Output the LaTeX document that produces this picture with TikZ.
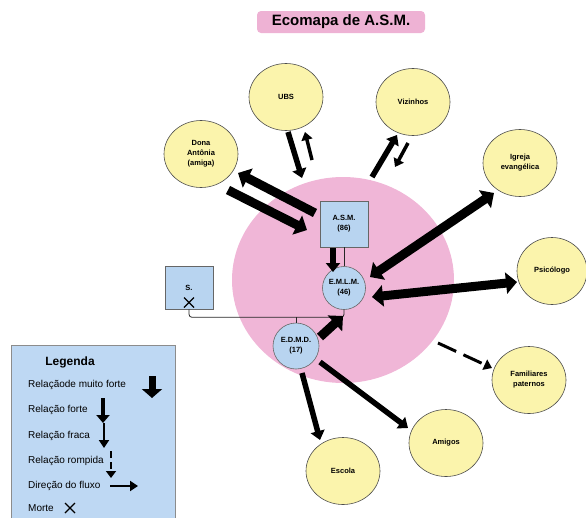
\documentclass[tikz,border=0pt]{standalone}
\usepackage{fontspec}
\setmainfont{Liberation Sans}
\usetikzlibrary{arrows.meta,calc,shapes.geometric}
\definecolor{pinkbg}{RGB}{240,182,215}
\definecolor{titlepink}{RGB}{238,178,212}
\definecolor{yel}{RGB}{251,244,172}
\definecolor{lblue}{RGB}{184,212,240}
\definecolor{legblue}{RGB}{190,216,243}
\begin{document}
\begin{tikzpicture}[x=1pt,y=-1pt,
  ext/.style={ellipse,draw=black!70,fill=yel,line width=0.6pt,minimum width=74pt,minimum height=67pt,
    font=\fontsize{7.5}{10}\selectfont\bfseries,align=center,inner sep=0pt},
  person/.style={draw=black!60,fill=lblue,line width=0.6pt,
    font=\fontsize{7.5}{10}\selectfont\bfseries,align=center,inner sep=0pt},
  mf/.style={line width=9pt,-{Triangle[length=11pt,width=21pt]}},
  mfd/.style={line width=9pt,{Triangle[length=11pt,width=21pt]}-{Triangle[length=11pt,width=21pt]}},
  fo/.style={line width=5.5pt,-{Triangle[length=9pt,width=14pt]}},
  fr/.style={line width=3.5pt,-{Triangle[length=8pt,width=11pt]}},
  rom/.style={line width=3pt,dash pattern=on 20pt off 8pt,-{Triangle[length=8pt,width=11pt]}},
  conn/.style={draw=black!85,line width=0.8pt},
  legtxt/.style={anchor=west,font=\fontsize{10}{12}\selectfont,inner sep=0pt},
]
\useasboundingbox (0,0) rectangle (586,517);

% title
\node[fill=titlepink,rounded corners=4pt,minimum width=168pt,minimum height=22pt,
  font=\fontsize{15}{18}\selectfont\bfseries] (title) at (341,22) {Ecomapa de A.S.M.};

% big pink circle
\node[ellipse,fill=pinkbg,minimum width=222pt,minimum height=206pt] (pink) at (343,280) {};

% external systems
\node[ext] (ubs) at (286,97) {UBS};
\node[ext] (viz) at (413,102) {Vizinhos};
\node[ext] (dona) at (201,154) {Dona\\Antônia\\(amiga)};
\node[ext] (igreja) at (520,163) {Igreja\\evangélica};
\node[ext,minimum width=70pt] (psi) at (552,271) {Psicólogo};
\node[ext] (fam) at (529,380) {Familiares\\paternos};
\node[ext] (escola) at (343,471) {Escola};
\node[ext] (amigos) at (446,443) {Amigos};

% family members
\node[person,minimum width=48pt,minimum height=46pt] (asm) at (344,224) {A.S.M.\\(86)};
\node[person,circle,minimum size=43pt] (emlm) at (344,288) {E.M.L.M.\\(46)};
\node[person,minimum width=48pt,minimum height=43pt] (s) at (189,287.5) {};
\node[font=\fontsize{7.5}{10}\selectfont\bfseries,inner sep=0pt] (stxt) at (189,288) {S.};
\node[person,circle,minimum size=46pt] (edmd) at (296,346) {E.D.M.D.\\(17)};

% S cross (death)
\coordinate (sx) at ($(s)+(0,15)$);
\draw[line width=1.1pt] ($(sx)+(-5,-5)$) -- ($(sx)+(5,5)$) ($(sx)+(-5,5)$) -- ($(sx)+(5,-5)$);

% family lines
\coordinate (bar) at ($(s.south)+(0,8)$);
\draw[conn,rounded corners=3pt] (s.south) -- (bar) -| (emlm.south);
\draw[conn] (edmd.north) -- (edmd.north |- bar);
\draw[conn] (asm.south) -- (emlm.north);

% relations
\draw[mf] ($(asm)+(-29,-11)$) -- ($(dona)+(37,19)$);
\draw[mf] ($(dona)+(27,36)$) -- ($(asm)+(-37,6)$);
\draw[fo] ($(ubs)+(2,35)$) -- ($(asm)+(-42,-46)$);
\draw[fr] ($(asm)+(-32,-64)$) -- ($(ubs)+(19,35)$);
\draw[fo] ($(asm)+(28,-47)$) -- ($(viz)+(-16,33)$);
\draw[fr] ($(viz)+(-5,41)$) -- ($(asm)+(51,-57)$);
\draw[mfd] ($(emlm)+(26,-11)$) -- ($(igreja)+(-26,30)$);
\draw[mfd] ($(emlm)+(28,9)$) -- ($(psi)+(-35,11)$);
\draw[mf] ($(edmd)+(24,-9)$) -- ($(emlm)+(-1,28)$);
\draw[fo] ($(asm)+(-11,24)$) -- ($(emlm)+(-11,-16)$);
\draw[fo] ($(edmd)+(6,27)$) -- ($(escola)+(-23,-31)$);
\draw[fo] ($(edmd)+(24,16)$) -- ($(amigos)+(-38,-15)$);
\draw[rom] ($(pink)+(95,63)$) -- ($(fam)+(-37,-12)$);

% legend
\node[draw=black!45,fill=legblue,line width=0.8pt,minimum width=164pt,minimum height=180pt,
  anchor=north west,inner sep=0pt] (leg) at (11,345) {};
\node[font=\fontsize{12}{14}\selectfont\bfseries] (legt) at (70,362) {Legenda};
\node[legtxt] (l1) at (28,385) {Relaçãode muito forte};
\node[legtxt] (l2) at (28,410) {Relação forte};
\node[legtxt] (l3) at (28,436) {Relação fraca};
\node[legtxt] (l4) at (28,461) {Relação rompida};
\node[legtxt] (l5) at (28,486) {Direção do fluxo};
\node[legtxt] (l6) at (28,508) {Morte};

\coordinate (a1s) at (152,376); \coordinate (a1e) at (152,398);
\coordinate (a2s) at (103,398); \coordinate (a2e) at (103,423);
\coordinate (a3s) at (104,423); \coordinate (a3e) at (104,448);
\coordinate (a4s) at (111,451); \coordinate (a4e) at (111,478);
\coordinate (a5s) at (110,486); \coordinate (a5e) at (138,486);
\coordinate (mx) at (70,508);
\draw[line width=7pt,-{Triangle[length=9pt,width=20pt]}] (a1s) -- (a1e);
\draw[line width=4pt,-{Triangle[length=8pt,width=13pt]}] (a2s) -- (a2e);
\draw[line width=2.5pt,-{Triangle[length=8pt,width=10pt]}] (a3s) -- (a3e);
\draw[line width=2.5pt,dash pattern=on 7pt off 4pt,-{Triangle[length=7pt,width=10pt]}] (a4s) -- (a4e);
\draw[line width=2.5pt,-{Triangle[length=8pt,width=10pt]}] (a5s) -- (a5e);
\draw[line width=1.3pt] ($(mx)+(-5,-5)$) -- ($(mx)+(5,5)$) ($(mx)+(-5,5)$) -- ($(mx)+(5,-5)$);
\end{tikzpicture}
\end{document}
